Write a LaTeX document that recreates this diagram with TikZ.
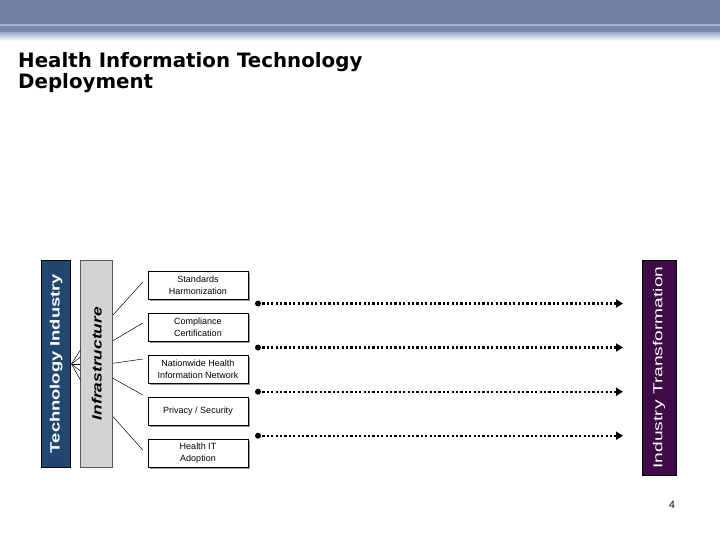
\documentclass[tikz,border=0pt]{standalone}
\usepackage{fontspec}
\setmainfont{Liberation Sans}
\newfontfamily\titlefont{DejaVu Sans}
\usetikzlibrary{positioning,arrows.meta,calc,shadows}

\definecolor{hdrblue}{HTML}{7281A3}
\definecolor{hdrlight}{HTML}{A6B3CF}
\definecolor{techblue}{HTML}{21466F}
\definecolor{infragray}{HTML}{D3D3D3}
\definecolor{transpurple}{HTML}{3E0A47}

\begin{document}
\begin{tikzpicture}[x=1pt, y=-1pt, >=Latex,
  stepbox/.style={draw=black, fill=white, minimum width=100pt, minimum height=28pt,
                  align=center, inner sep=1pt, font=\fontsize{9}{12}\selectfont,
                  drop shadow={shadow xshift=2pt, shadow yshift=-2pt, fill=gray!80, opacity=1}},
  vbar/.style={draw=black, line width=0.6pt, inner sep=0pt},
  spoke/.style={draw=black, line width=0.5pt},
  flow/.style={line width=2.2pt, dash pattern=on 2.2pt off 2.2pt, -{Triangle[length=7pt, width=8pt]}},
  flowdot/.style={fill=black}]

\useasboundingbox (0,0) rectangle (720,540);

% slide header
\fill[hdrblue] (0,0) rectangle (720,24);
\fill[hdrlight] (0,24) rectangle (720,26.5);
\fill[hdrblue!95!white] (0,26.5) rectangle (720,33);
\fill[top color=hdrlight, bottom color=white] (0,33) rectangle (720,41);

\node[anchor=base west, align=left, inner sep=0pt,
      font=\titlefont\bfseries\fontsize{19.8}{21.3}\selectfont] (title) at (18,89)
  {Health Information Technology\\Deployment};

% vertical bars
\node[vbar, fill=techblue, text=white, minimum width=29pt, minimum height=207pt] (tech) at (56.2,363.5)
  {\rotatebox{90}{\resizebox{179pt}{\height}{\fontsize{13.5}{14}\selectfont\bfseries Technology Industry}}};
\node[vbar, draw=gray!70!black, fill=infragray, minimum width=32pt, minimum height=207pt] (infra) at (96.7,363.5)
  {\rotatebox{90}{\resizebox{113pt}{\height}{\fontsize{13.5}{14}\selectfont\bfseries\itshape Infrastructure}}};
\node[vbar, fill=transpurple, text=white, minimum width=34pt, minimum height=215pt] (trans) at (659,367.5)
  {\rotatebox{90}{\resizebox{202pt}{\height}{\fontsize{13}{14}\selectfont Industry Transformation}}};

% initiative boxes
\node[stepbox] (b1) at (198,285) {Standards\\Harmonization};
\node[stepbox] (b2) at (198,327) {Compliance\\Certification};
\node[stepbox] (b3) at (198,369) {Nationwide Health\\Information Network};
\node[stepbox] (b4) at (198,411) {Privacy / Security};
\node[stepbox] (b5) at (198,453) {Health IT\\Adoption};

% technology industry fans out to infrastructure
\coordinate (hub) at (71.5,364);
\foreach \yy in {350,357,364,371,380}
  \draw[spoke] (hub) -- (infra.west |- 0,\yy);

% infrastructure to the boxes
\draw[spoke] (infra.east |- 0,315)   -- ($(b1.west)+(-5,-3)$);
\draw[spoke] (infra.east |- 0,340.7) -- ($(b2.west)+(-5,-4)$);
\draw[spoke] (infra.east |- 0,363.3) -- ($(b3.west)+(-5,-10)$);
\draw[spoke] (infra.east |- 0,378.3) -- ($(b4.west)+(-5,-16)$);
\draw[spoke] (infra.east |- 0,416.7) -- ($(b5.west)+(-5,-3)$);

% dotted transformation arrows
\foreach \i/\yy in {1/303.5,2/347.5,3/391.7,4/435.7} {
  \coordinate (s\i) at (258,\yy);
  \coordinate (e\i) at (623,\yy);
  \draw[flow] (s\i) -- (e\i);
  \fill[flowdot] (s\i) circle (3);
}

\node[font=\fontsize{10.5}{12}\selectfont] (pagenum) at (672,505) {4};

\end{tikzpicture}
\end{document}
